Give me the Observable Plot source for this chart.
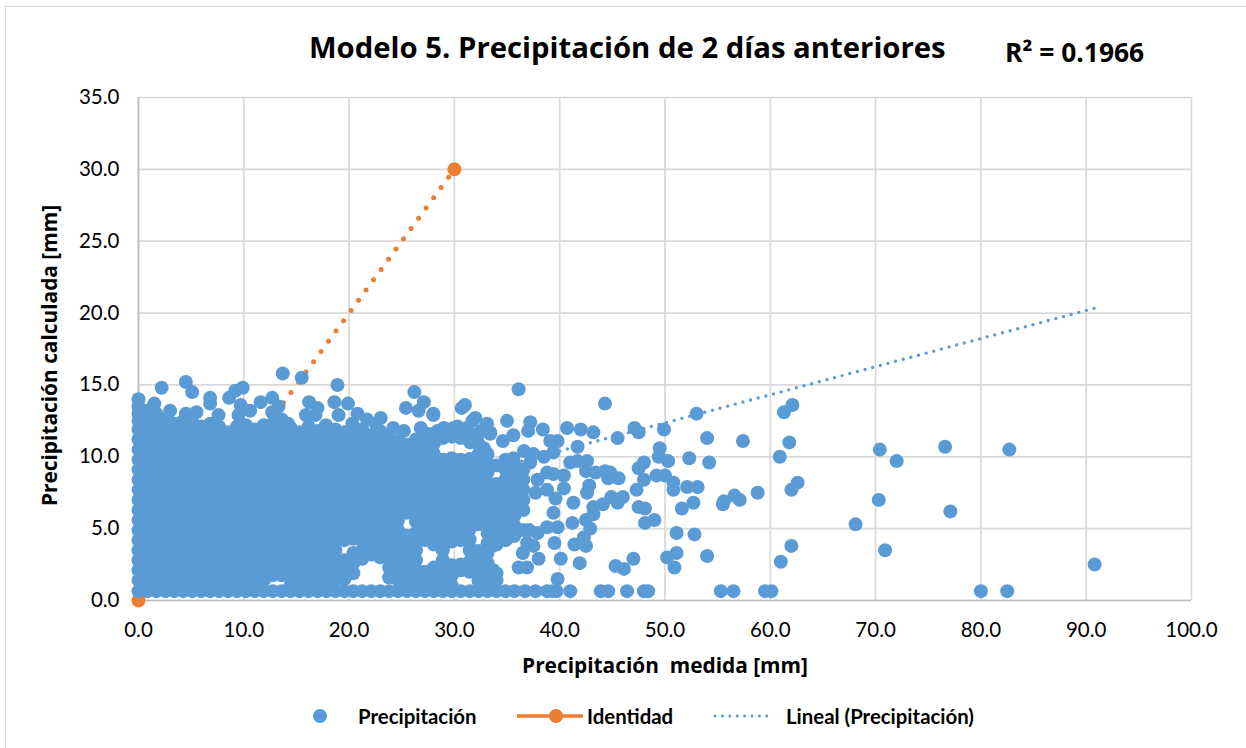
<!DOCTYPE html>
<html lang="es">
<head>
<meta charset="utf-8">
<script src="https://cdn.jsdelivr.net/npm/d3@7"></script>
<script src="https://cdn.jsdelivr.net/npm/@observablehq/plot@0.6"></script>
<style>
html,body{margin:0;padding:0;background:#fff;overflow:hidden}
body{width:1246px;height:748px;position:relative;font-family:"Open Sans",Lato,sans-serif;color:#000}
#marco{position:absolute;left:5px;top:6px;width:1300px;height:800px;border:1px solid #D9D9D9;box-sizing:border-box;pointer-events:none}
#titulo{position:absolute;left:309px;top:27px;font-size:29.3px;font-weight:700;white-space:nowrap;line-height:40px}
#r2{position:absolute;left:1005px;top:35px;font-size:26.4px;font-weight:700;white-space:nowrap;line-height:34px}
#chart{position:absolute;left:0;top:0}
#leyenda div{position:absolute;top:703px;font-family:Lato,"Open Sans",sans-serif;font-size:20.4px;font-weight:700;line-height:26px;white-space:nowrap}
#leyenda svg{position:absolute;left:0;top:0;overflow:visible}
</style>
</head>
<body>
<div id="marco"></div>
<div id="chart"></div>
<div id="titulo">Modelo 5. Precipitación de 2 días anteriores</div>
<div id="r2">R² = 0.1966</div>
<div id="leyenda">
<svg width="1246" height="748">
<circle cx="320" cy="716" r="7" fill="#5B9BD5"/>
<line x1="517" x2="583" y1="716" y2="716" stroke="#ED7D31" stroke-width="3.5"/>
<circle cx="556" cy="716" r="7" fill="#ED7D31"/>
<line x1="715" x2="773" y1="716" y2="716" stroke="#5B9BD5" stroke-width="3" stroke-linecap="round" stroke-dasharray="0 7.4"/>
</svg>
<div style="left:358px">Precipitación</div>
<div style="left:587px">Identidad</div>
<div style="left:786px">Lineal (Precipitación)</div>
</div>
<script>
const xTicks = [0,10,20,30,40,50,60,70,80,90,100];
const yTicks = [0,5,10,15,20,25,30,35];
const identidad = [[0,0],[30,30]];
const tendencia = [[0,2.58],[90.8,20.34]];

// Dense mass: one row per measured value [x, calculated values...]
const masaDensa = [
[0,.65,1.4,2.1,2.8,3.5,4.2,4.9,5.6,6.3,7,7.7,8.4,9.1,9.8,10.5,11.2,11.9,12.5,13,13.5],
[.85,.65,1.05,1.75,2.45,3.15,3.85,4.55,5.25,5.95,6.65,7.35,8.05,8.75,9.45,10.15,10.85,11.55,12.2,12.8,13.2],
[1.7,.65,1.4,2.1,2.8,3.5,4.2,4.9,5.6,6.3,7,7.7,8.4,9.1,9.8,10.5,11.2,11.9,12.6,13],
[2.55,.65,1.05,1.75,2.45,3.15,3.85,4.55,5.25,5.95,6.65,7.35,8.05,8.75,9.45,10.15,10.85,11.55,12.2,12.6],
[3.4,.65,1.4,2.1,2.8,3.5,4.2,4.9,5.6,6.3,7,7.7,8.4,9.1,9.8,10.5,11.2,11.9,12.3],
[4.25,.65,1.05,1.75,2.45,3.15,3.85,4.55,5.25,5.95,6.65,7.35,8.05,8.75,9.45,10.15,10.85,11.55,12.2,12.5],
[5.1,.65,1.4,2.1,2.8,3.5,4.2,4.9,5.6,6.3,7,7.7,8.4,9.1,9.8,10.5,11.2,11.9,12.4],
[5.95,.65,1.05,1.75,2.45,3.15,3.85,4.55,5.25,5.95,6.65,7.35,8.05,8.75,9.45,10.15,10.85,11.55,12.1],
[6.8,.65,1.4,2.1,2.8,3.5,4.2,4.9,5.6,6.3,7,7.7,8.4,9.1,9.8,10.5,11.2,11.9,12.3],
[7.65,.65,1.05,1.75,2.45,3.15,3.85,4.55,5.25,5.95,6.65,7.35,8.05,8.75,9.45,10.15,10.85,11.55,12.1],
[8.5,.65,1.4,2.1,2.8,3.5,4.2,4.9,5.6,6.3,7,7.7,8.4,9.1,9.8,10.5,11.2,11.7],
[9.35,.65,1.05,1.75,2.45,3.15,3.85,4.55,5.25,5.95,6.65,7.35,8.05,8.75,9.45,10.15,10.85,11.55,12.1],
[10.2,.65,1.4,2.1,2.8,3.5,4.2,4.9,5.6,6.3,7,7.7,8.4,9.1,9.8,10.5,11.2,11.9,12.2],
[11.05,.65,1.05,1.75,2.45,3.15,3.85,4.55,5.25,5.95,6.65,7.35,8.05,8.75,9.45,10.15,10.85,11.5,11.9],
[11.9,.65,1.4,2.1,2.8,3.5,4.2,4.9,5.6,6.3,7,7.7,8.4,9.1,9.8,10.5,11.2,11.6,12.2],
[12.75,.65,1.75,2.45,3.15,3.85,4.55,5.25,5.95,6.65,7.35,8.05,8.75,9.45,10.15,10.85,11.55,12.3],
[13.6,.65,1.75,2.1,2.8,3.5,4.2,4.9,5.6,6.3,7,7.7,8.4,9.1,9.8,10.5,11.2,11.7,12.6],
[14.45,.65,1.05,1.75,2.45,3.15,3.85,4.55,5.25,5.95,6.65,7.35,8.05,8.75,9.45,10.15,10.85,11.55,12],
[15.3,.65,1.4,2.1,2.8,3.5,4.2,4.9,5.6,6.3,7,7.7,8.4,9.1,9.8,10.5,11.2,11.7],
[16.15,.65,1.05,1.75,2.45,3.15,3.85,4.55,5.25,5.95,6.65,7.35,8.05,8.75,9.45,10.15,10.85,11.55,12.1],
[17,.65,1.4,2.1,2.8,3.5,4.2,4.9,5.6,6.3,7,7.7,8.4,9.1,9.8,10.5,11.2,11.8],
[17.85,.65,1.05,1.75,2.45,3.15,3.85,4.55,5.25,5.95,6.65,7.35,8.05,8.75,9.45,10.15,10.85,11.5],
[18.7,.65,1.4,2.1,2.8,3.5,4.2,4.9,5.6,6.3,7,7.7,8.4,9.1,9.8,10.5,11.2,11.9],
[19.55,.65,1.5,2.1,2.8,4.2,4.9,5.6,6.3,7,7.7,8.4,9.1,9.8,10.5,11.2,11.7],
[20.4,.65,1.9,2.6,3.3,4.3,4.9,5.6,6.3,7,7.7,8.4,9.1,9.8,10.5,11.2,11.8],
[21.25,.65,2.9,3.5,4.2,4.9,5.6,6.3,7,7.7,8.4,9.1,9.8,10.5,11.2,11.9],
[22.1,.65,3.2,3.85,4.55,5.25,5.95,6.65,7.35,8.05,8.75,9.45,10.15,10.85,11.5],
[22.95,.65,3,3.5,4.2,4.9,5.6,6.3,7,7.7,8.4,9.1,9.8,10.5,11.2,11.8],
[23.8,.65,1.6,2.3,3.15,3.85,4.55,5.25,5.95,6.65,7.35,8.05,8.75,9.45,10.15,10.85,11.4],
[24.65,.65,1.4,2.1,2.8,3.5,4.2,4.9,5.6,6.3,7,7.7,8.4,9.1,9.8,10.5,11.1],
[25.5,.65,1.05,1.75,2.45,3.15,3.85,4.5,6.1,6.65,7.35,8.05,8.75,9.45,10.15,10.85],
[26.35,.65,1.4,2.1,2.8,3.5,4.2,4.7,5.5,6.3,7,7.7,8.4,9.1,9.8,10.5,11.2],
[27.2,.65,1.3,2,4.2,4.9,5.6,6.3,7,7.7,8.4,9.1,9.8,10.5,11.2],
[28.05,.65,1,1.7,2.3,3.9,4.6,5.3,6,6.7,7.4,8.1,8.8,9.5,10.2,10.9,11.6],
[28.9,.65,1.4,2.1,2.8,3.5,4.2,4.9,5.6,6.3,7,7.7,8.4,9.1,9.8,11.3],
[29.75,.65,1.05,1.75,2.45,4.1,4.55,5.25,5.95,6.65,7.35,8.05,8.75,9.45,9.9,11.4],
[30.6,.65,2.1,2.5,4.2,4.9,5.6,6.3,7,7.7,8.4,9.1,9.8,11.3],
[31.45,.65,2,2.7,3.5,4.25,4.95,5.65,6.35,7.05,7.75,8.45,9.15,9.85,11.5],
[32.3,.65,1.35,2.05,2.75,3.45,5.3,6,6.7,7.4,8.1,8.8,9.5,10.2,10.9,11.6],
[33.15,.65,1.2,1.9,2.6,3.3,4,4.7,5.4,6.1,6.8,7.5,8.2,8.9,9.6,10.2],
[34,.65,1.4,1.9,3.9,4.6,5.3,6,6.7,7.4,8.1,9.4],
[34.85,.65,4.2,4.9,5.6,6.3,7,7.7,8.4,9.1,9.8],
[35.7,.65,4.5,5.2,5.9,6.6,7.3,8,8.7,9.4],
[36.55,4.9,6.3,7,7.7,8.4,9.1]
];

// Loose points read one by one on the outline and the sparse part
const contorno = [
[0,14],[1.5,13.7],[2.2,14.8],[3,13.2],[4.5,13],[4.5,15.2],[5.1,14.5],[5.5,13.1],[6.8,14.1],[6.8,13.7],[7.6,12.9],[8.6,14.1],[9.2,14.6],[9.9,14.8],[9.7,13.6],[9.5,12.9],[10.6,13.2],[11.6,13.8],[12.7,14.1],[13.3,13.5],[12.7,13.1],[13.7,15.8],[15.5,15.5],[16.2,13.8],[17,13.4],[15.9,12.9],[18.9,15],[18.6,13.8],[19.9,13.7],[19,12.9],[20.8,13],[20.3,12.3],[21.7,12.6],[23,12.7],[24.2,12],[25.4,13.4],[26.2,14.5],[27.1,13.8],[26.6,13.2],[28,12.9],[26.8,12],[29,12],[30.3,12.1],[31,13.6],[30.7,13.4],[32,12.7],[33.1,12.3],[33.4,11.7],[31.7,12.5],[22.5,12.3],[16.8,12.9],[14.2,12.3],[13,12.5],[25.2,11.8],[17.8,12.2]
];
const dispersos = [
[36.1,14.7],[44.3,13.7],[28,13],[35,12.5],[33.4,11.6],[37.2,12.4],[37,11.8],[38.4,11.9],[34.6,11.1],[35.6,11.5],[40.7,12],[42,11.9],[43.2,11.7],[39.1,11.1],[39.8,11.1],[41.7,10.7],[39.4,10.3],[45.5,11.3],[47.1,12],[47.5,11.7],[53,13],[49.9,11.9],[54,11.3],[57.4,11.1],[62.1,13.6],[61.3,13.1],[61.8,11],[60.9,10],[49.5,10.6],[49.4,10],[50.3,9.7],[52.3,9.9],[54.2,9.6],[48,9.6],[47.5,9.2],[41,9.6],[42.6,9.7],[41.7,9.7],[42.5,9],[43.4,8.9],[44.3,9],[44.8,8.9],[44.6,8.5],[45.6,8.5],[48,8.4],[47.3,7.7],[49.2,8.7],[50,8.7],[50.8,8.2],[50.8,7.7],[52.1,7.9],[53.1,7.9],[52.7,6.8],[51.6,6.4],[55.5,6.7],[55.6,6.9],[56.6,7.3],[57.1,7],[58.8,7.5],[62.6,8.2],[62,7.7],[47.5,6.5],[48.1,6.4],[49,5.6],[48.1,5.4],[51.1,4.7],[52.8,4.6],[51.1,3.3],[50.2,3],[50.9,2.3],[54,3.1],[62,3.8],[61,2.7],[47,2.9],[46.1,2.2],[45.3,2.4],[41.9,2.6],[40.1,2.9],[39.8,1.5],
[46,7.2],[45.5,6.8],[44.9,7.2],[44.1,6.7],[43.2,6.5],[43.2,6],[42.5,5.6],[42.9,5],[42.3,4.4],[42.5,3.8],[41.4,3.9],[42.8,8],[42.6,7.5],[40.4,7.8],[41.3,6.8],[41.2,5.4],[40.4,8.7],[39.4,8.8],[38.8,8.9],[38.8,7.7],[39.6,7.1],[39.4,6.1],[38.8,5.1],[39.8,5.1],[39.5,4],[37.5,3.8],[38,2.9],[36.9,2.3],[36.1,2.3],[36.5,3.3],[36.9,4],[37.1,4.9],[37.9,4.7],[35.6,4.5],[33.6,3.8],[35,4.3],[31.7,3.5],[30.8,2.3],[32.2,1.9],[33.7,2.1],[32.8,1.2],[35.6,9.9],[37.5,10.2],[37.2,9.6],[38.5,10],[36.6,10.4],[37.9,8.4],[37.7,7.5],[28.4,11.8],[29.9,12],[27.4,11.6],[31.2,12],[32.5,11.8],[30.3,11.6],[31.5,11],[32.8,10.6],
[70.4,10.5],[72,9.7],[76.6,10.7],[82.7,10.5],[70.3,7],[77.1,6.2],[68.1,5.3],[70.9,3.5],[90.8,2.5]
];
const lineaBase = [36.7,37.7,38.8,39.3,39.7,41,43.9,44.6,46.4,48,48.4,55.3,56.5,59.5,60.1,80,82.5];

const puntos = [
  ...masaDensa.flatMap(([x,...ys]) => ys.map(y => [x,y])),
  ...contorno, ...dispersos,
  ...lineaBase.map(x => [x,.65])
];
const azul = "#5B9BD5", naranja = "#ED7D31", rejilla = "#D9D9D9";
const fmt = d => d.toFixed(1);

const chart = Plot.plot({
  width: 1246, height: 680,
  marginLeft: 138, marginRight: 55, marginTop: 97, marginBottom: 80,
  x: {domain: [0,100], label: null},
  y: {domain: [0,35], label: null},
  style: {background: "transparent", fontFamily: "Lato, 'Open Sans', sans-serif", color: "#000", overflow: "visible"},
  marks: [
    Plot.gridX(xTicks, {stroke: rejilla, strokeOpacity: 1, strokeWidth: 1.7}),
    Plot.gridY(yTicks, {stroke: rejilla, strokeOpacity: 1, strokeWidth: 1.7}),
    Plot.ruleX([0], {stroke: "#BFBFBF", strokeWidth: 1.7}),
    Plot.ruleY([0], {stroke: "#BFBFBF", strokeWidth: 1.7}),
    Plot.axisX({ticks: xTicks, tickFormat: fmt, tickSize: 0, tickPadding: 22, fontSize: 20.5, label: null}),
    Plot.axisY({ticks: yTicks, tickFormat: fmt, tickSize: 0, tickPadding: 19, fontSize: 20.5, label: null}),
    Plot.line(identidad, {x: d => d[0], y: d => d[1], stroke: naranja, strokeWidth: 5, strokeLinecap: "round", strokeDasharray: "0 12.7", strokeDashoffset: -4}),
    Plot.dot(identidad, {x: d => d[0], y: d => d[1], r: 7, fill: naranja}),
    Plot.dot(puntos, {x: d => d[0], y: d => d[1], r: 7, fill: azul}),
    Plot.line(tendencia, {x: d => d[0], y: d => d[1], stroke: azul, strokeWidth: 3.4, strokeLinecap: "round", strokeDasharray: "0 7.9", strokeDashoffset: -1.5}),
    Plot.text(["Precipitación  medida [mm]"], {frameAnchor: "bottom", dy: 66, textAnchor: "middle", lineAnchor: "middle", fontFamily: "Open Sans", fontSize: 20.85, fontWeight: 700, fill: "#000"}),
    Plot.text(["Precipitación calculada [mm]"], {frameAnchor: "left", rotate: -90, dx: -88, dy: 6.5, textAnchor: "middle", lineAnchor: "middle", fontFamily: "Open Sans", fontSize: 20.85, fontWeight: 700, fill: "#000"})
  ]
});
document.getElementById("chart").appendChild(chart);
</script>
</body>
</html>
